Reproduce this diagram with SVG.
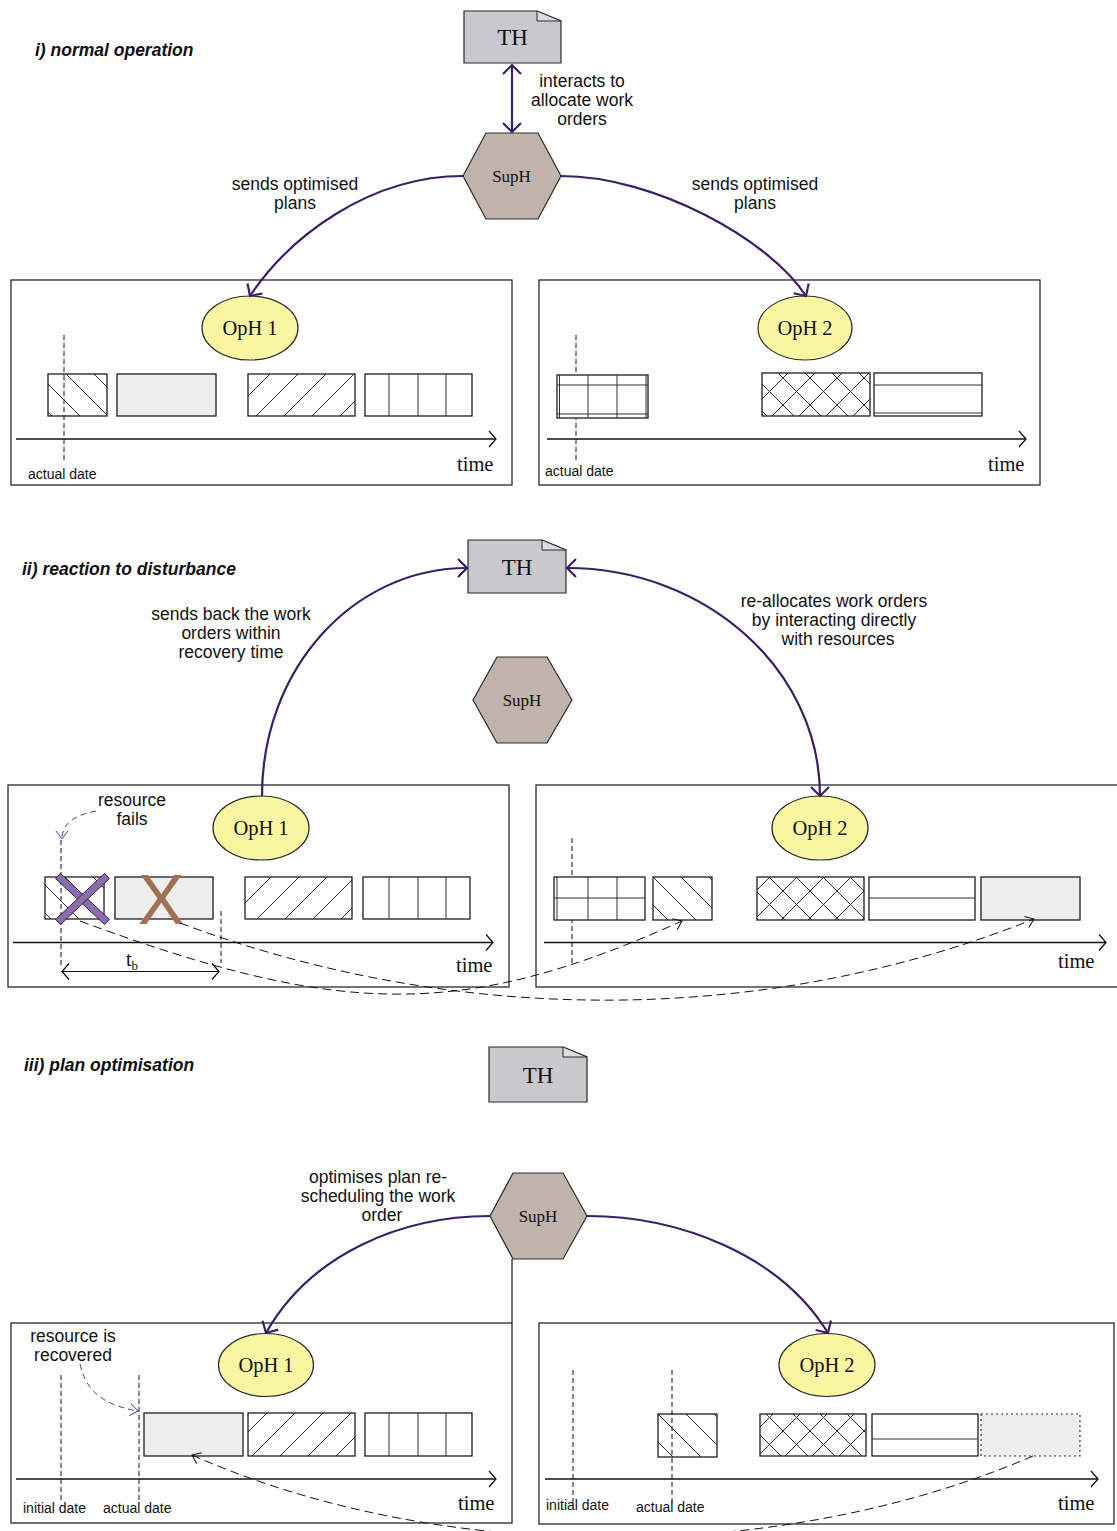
<svg xmlns="http://www.w3.org/2000/svg" width="1117" height="1531" viewBox="0 0 1117 1531">
  <style>
    .panel { fill: #ffffff; stroke: #2a2a2a; stroke-width: 1.3; }
    .note { fill: #c9c9cd; stroke: #2a2a2a; stroke-width: 1.2; }
    .fold { fill: #dedee2; stroke: #2a2a2a; stroke-width: 1; }
    .hex { fill: #c0b3ab; stroke: #2a2a2a; stroke-width: 1.2; }
    .oph { fill: #f9f5a1; stroke: #2a2a2a; stroke-width: 1.2; }
    .blk { fill: #ffffff; stroke: #1e1e1e; stroke-width: 1.3; }
    .gray { fill: #eeeeee; stroke: #1e1e1e; stroke-width: 1.3; }
    .hl { stroke: #3a2a30; stroke-width: 1; fill: none; }
    .axis { stroke: #111; stroke-width: 1.3; fill: none; marker-end: url(#ax); }
    .vd { stroke: #111; stroke-width: 1; stroke-dasharray: 5,3; fill: none; }
    .flow { stroke: #3c1e68; stroke-width: 2.2; fill: none; }
    .mv { stroke: #111; stroke-width: 1; stroke-dasharray: 9,5; fill: none; marker-end: url(#ah); }
    .hint { stroke: #5c3f8f; stroke-width: 1; stroke-dasharray: 6,4; fill: none; marker-end: url(#ph); }
    .lbl { font-family: "Liberation Sans", Arial, sans-serif; font-size: 17.5px; fill: #111; text-anchor: middle; }
    .ttl { font-family: "Liberation Sans", Arial, sans-serif; font-size: 17.5px; font-weight: bold; font-style: italic; fill: #111; }
    .date { font-family: "Liberation Sans", Arial, sans-serif; font-size: 14px; fill: #111; }
    .serif { font-family: "Liberation Serif", "Times New Roman", serif; fill: #111; }
    .nm { font-family: "Liberation Serif", "Times New Roman", serif; fill: #111; text-anchor: middle; font-size: 20.5px; }
    .time { font-family: "Liberation Serif", "Times New Roman", serif; fill: #111; font-size: 20.5px; }
  </style>
  <defs>
    <marker id="pa" markerUnits="userSpaceOnUse" markerWidth="24" markerHeight="24" viewBox="-12 -12 24 24" refX="0" refY="0" orient="auto-start-reverse">
      <path d="M-9,-9 L0,0 L-9,9" fill="none" stroke="#3c1e68" stroke-width="2.2"/>
    </marker>
    <marker id="ax" markerUnits="userSpaceOnUse" markerWidth="20" markerHeight="20" viewBox="-10 -10 20 20" refX="0" refY="0" orient="auto-start-reverse">
      <path d="M-7,-8 L0,0 L-7,8" fill="none" stroke="#111" stroke-width="1.3"/>
    </marker>
    <marker id="ah" markerUnits="userSpaceOnUse" markerWidth="20" markerHeight="20" viewBox="-10 -10 20 20" refX="0" refY="0" orient="auto">
      <path d="M-8,-6 L0,0 L-8,6" fill="none" stroke="#111" stroke-width="1"/>
    </marker>
    <marker id="ph" markerUnits="userSpaceOnUse" markerWidth="20" markerHeight="20" viewBox="-10 -10 20 20" refX="0" refY="0" orient="auto">
      <path d="M-8,-6 L0,0 L-8,6" fill="none" stroke="#5c3f8f" stroke-width="1"/>
    </marker>
    <pattern id="bdiag" patternUnits="userSpaceOnUse" width="28" height="28">
      <path d="M-7,-7 L35,35 M-7,21 L7,35 M21,-7 L35,7" stroke="#3a2a30" stroke-width="1" fill="none"/>
    </pattern>
    <pattern id="fdiag" patternUnits="userSpaceOnUse" width="28" height="28">
      <path d="M-7,35 L35,-7 M-7,7 L7,-7 M21,35 L35,21" stroke="#3a2a30" stroke-width="1" fill="none"/>
    </pattern>
    <pattern id="cross" patternUnits="userSpaceOnUse" width="27" height="27">
      <path d="M-7,-7 L34,34 M-7,20 L7,34 M20,-7 L34,7 M-7,34 L34,-7 M-7,7 L7,-7 M20,34 L34,20" stroke="#3a2a30" stroke-width="1" fill="none"/>
    </pattern>
  </defs>

  <rect x="0" y="0" width="1117" height="1531" fill="#ffffff"/>

  <!-- ===== i) normal operation ===== -->
  <text class="ttl" x="35" y="56">i) normal operation</text>

  <g id="panel-i-1">
    <rect class="panel" x="11" y="280" width="501" height="205"/>
    <line class="vd" x1="64" y1="335" x2="64" y2="463"/>
    <rect class="blk" x="48" y="374" width="59" height="42" fill="url(#bdiag)" style="fill:url(#bdiag)"/>
    <rect class="gray" x="117" y="374" width="99" height="42"/>
    <rect class="blk" x="248" y="374" width="107" height="42" style="fill:url(#fdiag)"/>
    <rect class="blk" x="365" y="374" width="107" height="42"/>
    <path class="hl" d="M389,374 V416 M418,374 V416 M446,374 V416"/>
    <line class="axis" x1="16" y1="439" x2="496" y2="439"/>
    <text class="date" x="28" y="479">actual date</text>
    <text class="time" x="457" y="471">time</text>
  </g>

  <g id="panel-i-2">
    <rect class="panel" x="539" y="280" width="501" height="205"/>
    <line class="vd" x1="576" y1="335" x2="576" y2="463"/>
    <rect class="blk" x="557" y="375" width="91" height="43"/>
    <path class="hl" d="M559.5,375 V418 M588,375 V418 M617,375 V418 M646,375 V418 M557,385 H648 M557,414 H648"/>
    <rect class="blk" x="762" y="373" width="108" height="43" style="fill:url(#cross)"/>
    <rect class="blk" x="874" y="373" width="108" height="43"/>
    <path class="hl" d="M874,385 H982 M874,413 H982"/>
    <line class="axis" x1="547" y1="439" x2="1026" y2="439"/>
    <text class="date" x="545" y="476">actual date</text>
    <text class="time" x="988" y="471">time</text>
  </g>

  <g id="TH-i">
    <path class="note" d="M464,11 H537 L561,21 V63 H464 Z"/>
    <path class="fold" d="M537,11 L561,21 H537 Z"/>
    <text class="serif" x="512.5" y="45" font-size="23" text-anchor="middle">TH</text>
  </g>
  <g id="SupH-i">
    <polygon class="hex" points="463,176 486,133 538,133 561,176 538,219 486,219"/>
    <text class="serif" x="511.5" y="182" font-size="17" text-anchor="middle">SupH</text>
  </g>
  <g id="OpH1-i">
    <ellipse class="oph" cx="250" cy="328" rx="48" ry="32"/>
    <text class="nm" x="250" y="335">OpH 1</text>
  </g>
  <g id="OpH2-i">
    <ellipse class="oph" cx="805" cy="328" rx="47" ry="32"/>
    <text class="nm" x="805" y="335">OpH 2</text>
  </g>

  <!-- ===== ii) reaction to disturbance ===== -->
  <text class="ttl" x="22" y="575">ii) reaction to disturbance</text>

  <g id="panel-ii-1">
    <rect class="panel" x="8" y="785" width="501" height="202"/>
    <rect class="blk" x="45" y="877" width="59" height="42" style="fill:url(#bdiag)"/>
    <rect class="gray" x="115" y="877" width="98" height="42"/>
    <rect class="blk" x="245" y="877" width="107" height="42" style="fill:url(#fdiag)"/>
    <rect class="blk" x="363" y="877" width="107" height="42"/>
    <path class="hl" d="M389,877 V919 M418,877 V919 M446,877 V919"/>
    <line class="vd" x1="61" y1="840" x2="61" y2="965"/>
    <line class="vd" x1="221" y1="911" x2="221" y2="963"/>
    <line class="axis" x1="13" y1="942.5" x2="493" y2="942.5"/>
    <!-- failed resource and the cancelled work order -->
    <polygon points="60.4,873.4 109.4,919.4 104.6,924.6 55.6,878.6" fill="#8b6cae" stroke="#2c2040" stroke-width="1"/>
    <polygon points="104.6,873.4 109.4,878.6 60.4,924.6 55.6,919.4" fill="#8b6cae" stroke="#2c2040" stroke-width="1"/>
    <text x="161" y="924" font-family="Liberation Sans, Arial, sans-serif" font-size="70" fill="#a47055" text-anchor="middle">X</text>
    <!-- breakdown recovery interval -->
    <line x1="62" y1="971.5" x2="219" y2="971.5" stroke="#111" stroke-width="1.2" marker-start="url(#ax)" marker-end="url(#ax)"/>
    <text class="serif" x="126" y="966" font-size="20">t<tspan font-size="13" dy="4">b</tspan></text>
    <text class="lbl" x="132" y="806">resource</text>
    <text class="lbl" x="132" y="825">fails</text>
    <path class="hint" d="M96,811 C74,815 62,824 62,839"/>
    <text class="time" x="456" y="972">time</text>
  </g>

  <g id="panel-ii-2">
    <rect class="panel" x="536" y="785" width="590" height="202"/>
    <line class="vd" x1="572" y1="838" x2="572" y2="966"/>
    <rect class="blk" x="554" y="877" width="91" height="43"/>
    <path class="hl" d="M557,877 V920 M588,877 V920 M617,877 V920 M554,898 H645"/>
    <rect class="blk" x="653" y="877" width="59" height="43" style="fill:url(#bdiag)"/>
    <rect class="blk" x="757" y="877" width="107" height="43" style="fill:url(#cross)"/>
    <rect class="blk" x="869" y="877" width="106" height="43"/>
    <path class="hl" d="M869,898 H975"/>
    <rect class="gray" x="981" y="877" width="99" height="43"/>
    <line class="axis" x1="544" y1="942.5" x2="1106" y2="942.5"/>
    <text class="time" x="1058" y="968">time</text>
  </g>

  <g id="TH-ii">
    <path class="note" d="M468,540 H542 L566,550 V593 H468 Z"/>
    <path class="fold" d="M542,540 L566,550 H542 Z"/>
    <text class="serif" x="517" y="575" font-size="23" text-anchor="middle">TH</text>
  </g>
  <g id="SupH-ii">
    <polygon class="hex" points="473,700 497,657 547,657 572,700 547,743 497,743"/>
    <text class="serif" x="522" y="706" font-size="17" text-anchor="middle">SupH</text>
  </g>
  <g id="OpH1-ii">
    <ellipse class="oph" cx="261" cy="828" rx="48" ry="32"/>
    <text class="nm" x="261" y="835">OpH 1</text>
  </g>
  <g id="OpH2-ii">
    <ellipse class="oph" cx="820" cy="828" rx="48" ry="32"/>
    <text class="nm" x="820" y="835">OpH 2</text>
  </g>

  <!-- ===== iii) plan optimisation ===== -->
  <text class="ttl" x="24" y="1071">iii) plan optimisation</text>

  <g id="panel-iii-1">
    <rect class="panel" x="11" y="1323" width="501" height="200"/>
    <line x1="512" y1="1259" x2="512" y2="1323" stroke="#2a2a2a" stroke-width="1.3"/>
    <line class="vd" x1="61" y1="1375" x2="61" y2="1503"/>
    <line class="vd" x1="139" y1="1375" x2="139" y2="1503"/>
    <rect class="gray" x="144" y="1413" width="99" height="43"/>
    <rect class="blk" x="248" y="1413" width="107" height="43" style="fill:url(#fdiag)"/>
    <rect class="blk" x="365" y="1413" width="107" height="43"/>
    <path class="hl" d="M389,1413 V1456 M418,1413 V1456 M446,1413 V1456"/>
    <line class="axis" x1="16" y1="1479" x2="496" y2="1479"/>
    <text class="lbl" x="73" y="1342">resource is</text>
    <text class="lbl" x="73" y="1361">recovered</text>
    <path class="hint" d="M80,1364 C86,1394 108,1406 138,1411"/>
    <text class="date" x="23" y="1513">initial date</text>
    <text class="date" x="103" y="1513">actual date</text>
    <text class="time" x="458" y="1510">time</text>
  </g>

  <g id="panel-iii-2">
    <rect class="panel" x="539" y="1323" width="575" height="201"/>
    <line class="vd" x1="573" y1="1370" x2="573" y2="1503"/>
    <line class="vd" x1="672" y1="1370" x2="672" y2="1503"/>
    <rect class="blk" x="658" y="1414" width="59" height="43" style="fill:url(#bdiag)"/>
    <rect class="blk" x="760" y="1414" width="106" height="42" style="fill:url(#cross)"/>
    <rect class="blk" x="872" y="1414" width="106" height="42"/>
    <path class="hl" d="M872,1439 H978"/>
    <rect x="981" y="1414" width="99" height="42" fill="#eeeeee" stroke="#333" stroke-width="1.2" stroke-dasharray="2,3"/>
    <line class="axis" x1="545" y1="1479" x2="1098" y2="1479"/>
    <text class="date" x="546" y="1510">initial date</text>
    <text class="date" x="636" y="1512">actual date</text>
    <text class="time" x="1058" y="1510">time</text>
  </g>

  <g id="TH-iii">
    <path class="note" d="M489,1047 H563 L587,1057 V1102 H489 Z"/>
    <path class="fold" d="M563,1047 L587,1057 H563 Z"/>
    <text class="serif" x="538" y="1083" font-size="23" text-anchor="middle">TH</text>
  </g>
  <g id="SupH-iii">
    <polygon class="hex" points="490,1216 513,1173 563,1173 587,1216 563,1259 513,1259"/>
    <text class="serif" x="538" y="1222" font-size="17" text-anchor="middle">SupH</text>
  </g>
  <g id="OpH1-iii">
    <ellipse class="oph" cx="266" cy="1365" rx="47.5" ry="31.5"/>
    <text class="nm" x="266" y="1372">OpH 1</text>
  </g>
  <g id="OpH2-iii">
    <ellipse class="oph" cx="827" cy="1365" rx="48" ry="31.5"/>
    <text class="nm" x="827" y="1372">OpH 2</text>
  </g>

  <!-- ===== connectors ===== -->
  <g id="connectors">
    <!-- i -->
    <line class="flow" x1="512" y1="65" x2="512" y2="132" marker-start="url(#pa)" marker-end="url(#pa)"/>
    <path class="flow" d="M463,176 C370,176 290,236 250,296" marker-end="url(#pa)"/>
    <path class="flow" d="M561,176 C655,176 770,240 806,296" marker-end="url(#pa)"/>
    <!-- ii -->
    <path class="flow" d="M262,796 C262,668 354,568 467,568" marker-end="url(#pa)"/>
    <path class="flow" d="M567,568 C706,568 820,670 820,796" marker-start="url(#pa)" marker-end="url(#pa)"/>
    <path class="mv" d="M80,921 C340,1017 462,1020 682,921"/>
    <path class="mv" d="M180,923 C460,1028 769,1025 1034,919"/>
    <!-- iii -->
    <path class="flow" d="M490,1216 C400,1216 310,1255 266,1333" marker-end="url(#pa)"/>
    <path class="flow" d="M587,1216 C680,1216 780,1255 828,1333" marker-end="url(#pa)"/>
    <path class="mv" d="M1033,1456 C780,1565 440,1565 192,1455"/>
  </g>

  <!-- connector labels -->
  <g id="labels">
    <text class="lbl" x="582" y="87">interacts to</text>
    <text class="lbl" x="582" y="106">allocate work</text>
    <text class="lbl" x="582" y="125">orders</text>
    <text class="lbl" x="295" y="190">sends optimised</text>
    <text class="lbl" x="295" y="209">plans</text>
    <text class="lbl" x="755" y="190">sends optimised</text>
    <text class="lbl" x="755" y="209">plans</text>
    <text class="lbl" x="231" y="620">sends back the work</text>
    <text class="lbl" x="231" y="639">orders within</text>
    <text class="lbl" x="231" y="658">recovery time</text>
    <text class="lbl" x="834" y="607">re-allocates work orders</text>
    <text class="lbl" x="834" y="626">by interacting directly</text>
    <text class="lbl" x="838" y="645">with resources</text>
    <text class="lbl" x="378" y="1183">optimises plan re-</text>
    <text class="lbl" x="378" y="1202">scheduling the work</text>
    <text class="lbl" x="382" y="1221">order</text>
  </g>
</svg>
